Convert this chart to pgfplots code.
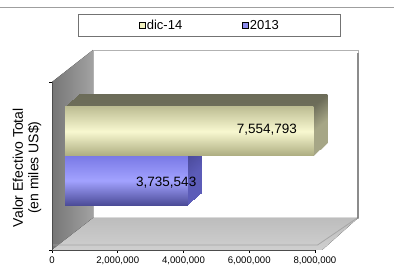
\documentclass[border=0pt]{standalone}
\usepackage{fontspec}
\setmainfont{Liberation Sans}
\usepackage{pgfplots}
\pgfplotsset{compat=1.18}
\definecolor{yelF}{HTML}{F2F2C0}
\definecolor{yelT}{HTML}{BEBE94}
\definecolor{yelM}{HTML}{F8F8D0}
\definecolor{yelB}{HTML}{ACAC80}
\definecolor{yelDT}{HTML}{6E6E5A}
\definecolor{yelDB}{HTML}{A6A686}
\definecolor{bluT}{HTML}{7A7AE6}
\definecolor{bluM}{HTML}{A2A2FF}
\definecolor{bluB}{HTML}{4C4C98}
\definecolor{bluDT}{HTML}{4A4A9A}
\definecolor{bluDB}{HTML}{5C5CB8}
\definecolor{bluL}{HTML}{8C8CEC}
\definecolor{wallA}{HTML}{767676}
\definecolor{wallB}{HTML}{A2A2A2}
\definecolor{floorA}{HTML}{BDBDBD}
\definecolor{floorB}{HTML}{CFCFCF}
\pgfplotsset{
  barplane/.style={scale only axis, width=263pt, height=168pt, anchor=south west,
    xmin=0, xmax=8000000, ymin=0, ymax=1, hide axis, clip=false}
}
\begin{document}
\begin{tikzpicture}[x=1pt,y=1pt]
\useasboundingbox (0,0) rectangle (394,267);
\draw[gray!75, line width=0.9pt] (0,260) -- (394,260);

% frame axis
\begin{axis}[at={(52pt,17pt)}, anchor=south west, scale only axis,
  width=263pt, height=168pt, xmin=0, xmax=8000000, ymin=0, ymax=1,
  clip=false, axis on top=true,
  axis x line*=bottom, axis y line*=left, axis line style={-, draw=black!70},
  xtick={0,2000000,4000000,6000000,8000000},
  xticklabels={0,{2,000,000},{4,000,000},{6,000,000},{8,000,000}},
  scaled x ticks=false,
  ytick={0,1}, yticklabels={},
  tick align=outside, major tick length=3pt, tick style={draw=black, line width=0.6pt},
  xticklabel style={font=\fontsize{9.6}{11}\selectfont, yshift=-0.5pt},
  every axis y label/.style={at={(axis description cs:-0.095,0.49)}, rotate=90,
    anchor=center, align=center, font=\fontsize{14}{15.5}\selectfont},
  ylabel={Valor Efectivo Total\\(en miles US\$)},
  legend columns=2,
  legend image code/.code={\draw[#1, line width=0.7pt] (0.5pt,-3pt) rectangle (6.5pt,3pt);},
  legend style={at={(axis description cs:0.599,1.336)}, anchor=center,
    draw=black!55, fill=white, font=\fontsize{13}{15}\selectfont,
    inner xsep=60pt, inner ysep=4pt, nodes={inner sep=1.5pt},
    /tikz/every even column/.append style={column sep=58pt}},
]
\fill[left color=wallA, right color=wallB]
  (rel axis cs:0,0) -- (rel axis cs:0,1) -- (rel axis cs:0.1559,1.1905)
  -- (rel axis cs:0.1559,0.1905) -- cycle;
\filldraw[fill=white, draw=black!30, line width=0.8pt]
  (rel axis cs:0.1559,0.1905) rectangle (rel axis cs:1.1635,1.1905);
\draw[black!45, line width=1.2pt] (rel axis cs:1.1635,0.1905) -- (rel axis cs:1.1635,1.17);
\fill[top color=floorA, bottom color=floorB]
  (rel axis cs:0,0) -- (rel axis cs:1.027,0) -- (rel axis cs:1.1635,0.1905)
  -- (rel axis cs:0.1559,0.1905) -- cycle;
\draw[black!35, line width=0.8pt] (rel axis cs:0,0.03) -- (rel axis cs:1.01,0.03) -- (rel axis cs:1.16,0.19);
\addlegendimage{fill=yelF, draw=black}
\addlegendentry{dic-14}
\addlegendimage{fill=bluL, draw=black}
\addlegendentry{2013}
\end{axis}

% depth copies (3D sides)
\foreach \k in {14,13,...,1} {
  \pgfmathsetmacro\ox{65+\k}
  \pgfmathsetmacro\oy{27+12/14*\k}
  \begin{axis}[barplane, at={(\ox pt,\oy pt)}]
  \addplot[xbar, bar shift=0pt, bar width=49pt, draw=none,
    top color=yelDT, bottom color=yelDB, middle color=yelDB]
    coordinates {(7554793,0.646)};
  \addplot[xbar, bar shift=0pt, bar width=49pt, draw=none,
    top color=bluDT, bottom color=bluDB, middle color=bluDB]
    coordinates {(3735543,0.354)};
  \end{axis}
}

% front faces
\begin{axis}[barplane, at={(65pt,27pt)}]
\addplot[xbar, bar shift=0pt, bar width=49pt, draw=none,
  top color=yelT, bottom color=yelB, middle color=yelM]
  coordinates {(7554793,0.646)};
\addplot[xbar, bar shift=0pt, bar width=49pt, draw=none,
  top color=bluT, bottom color=bluB, middle color=bluM]
  coordinates {(3735543,0.354)};
\addplot[xbar, bar shift=0pt, bar width=49pt, draw=none, fill=none,
  nodes near coords={7,554,793},
  every node near coord/.append style={anchor=east, xshift=-13pt, yshift=2pt,
    font=\fontsize{13.5}{15}\selectfont, text=black}]
  coordinates {(7554793,0.646)};
\addplot[xbar, bar shift=0pt, bar width=49pt, draw=none, fill=none,
  nodes near coords={3,735,543},
  every node near coord/.append style={anchor=east, xshift=12pt, yshift=-2.5pt,
    font=\fontsize{13.5}{15}\selectfont, text=black}]
  coordinates {(3735543,0.354)};
\end{axis}
\end{tikzpicture}
\end{document}
